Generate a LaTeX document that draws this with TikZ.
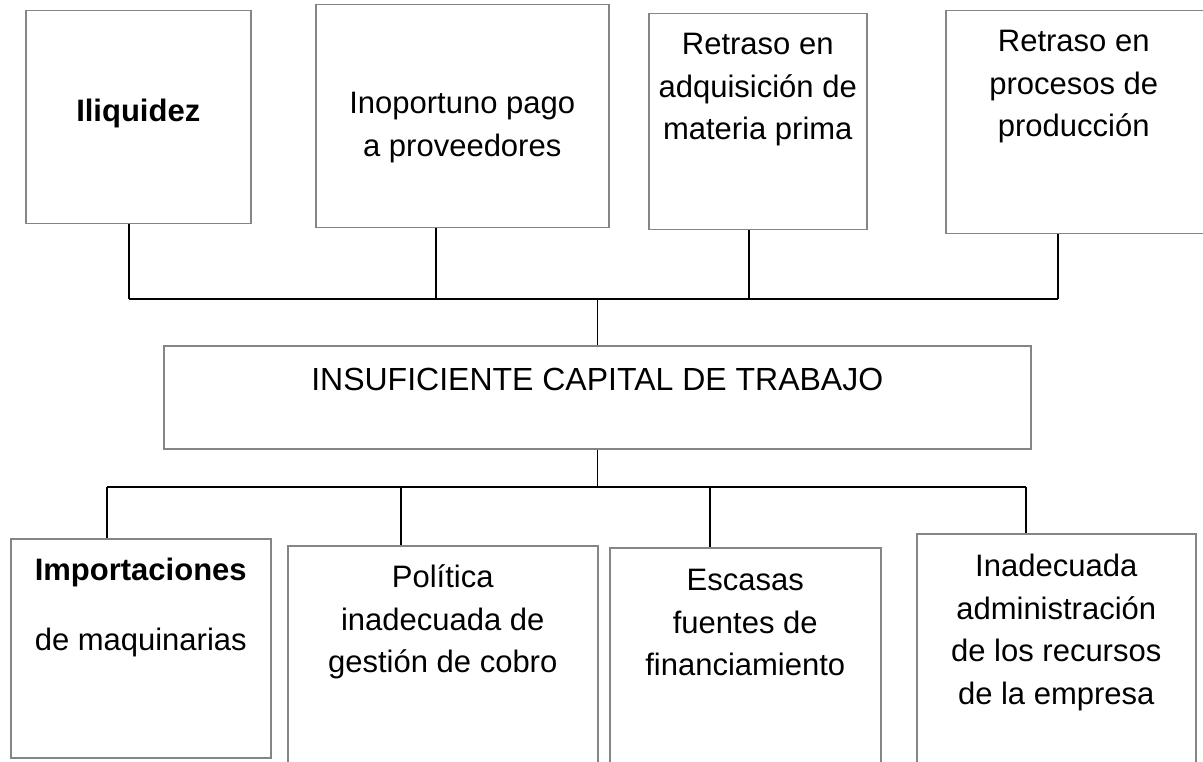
\documentclass[tikz,border=0pt]{standalone}
\usepackage{fontspec}
\setmainfont{Liberation Sans}
\definecolor{boxgray}{HTML}{858585}
\newcommand{\boxlines}[1]{\begin{tabular}[t]{@{}c@{}}#1\end{tabular}}
\begin{document}
\begin{tikzpicture}[x=1pt,y=-1pt,
  box/.style={draw=boxgray, line width=1.5pt, inner sep=0pt, anchor=north west,
    font=\fontsize{31}{42.5}\selectfont},
  conn/.style={line width=1.5pt, draw=black}]
\clip (0,0) rectangle (1203,762);
\fill[white] (0,0) rectangle (1203,762);
% top row
\node[box, minimum width=225pt, text height=111pt, text depth=102pt] (b1) at (25,10) {\boxlines{\textbf{Iliquidez}}};
\node[box, minimum width=293pt, text height=109pt, text depth=114pt] (b2) at (315,4) {\boxlines{Inoportuno pago\\a proveedores}};
\node[box, minimum width=218pt, text height=41pt, text depth=175pt] (b3) at (648,13) {\boxlines{Retraso en\\adquisición de\\materia prima}};
\node[box, minimum width=270pt, text height=41pt, text depth=182pt] (b4) at (945,10) {\boxlines{Retraso en\\procesos de\\producción}\hspace*{14pt}};
% centre
\node[box, minimum width=867pt, text height=45pt, text depth=58pt, font=\fontsize{32}{42.5}\selectfont] (c) at (163,345) {\boxlines{INSUFICIENTE CAPITAL DE TRABAJO}};
% bottom row
\node[box, minimum width=260pt, text height=42pt, text depth=177pt] (b5) at (10,538) {\boxlines{\textbf{Importaciones}\\[27.5pt]de maquinarias}};
\node[box, minimum width=310pt, text height=42pt, text depth=198pt] (b6) at (287,545) {\boxlines{Política\\inadecuada de\\gestión de cobro}};
\node[box, minimum width=271pt, text height=43pt, text depth=198pt] (b7) at (609,547) {\boxlines{Escasas\\fuentes de\\financiamiento}};
\node[box, minimum width=279pt, text height=43pt, text depth=208pt] (b8) at (916,533) {\boxlines{Inadecuada\\administración\\de los recursos\\de la empresa}};
% bus coordinates
\coordinate (u1) at (129,299);
\coordinate (u2) at (436,299);
\coordinate (u3) at (749,299);
\coordinate (u4) at (1058,299);
\coordinate (l1) at (107,487);
\coordinate (l2) at (401,487);
\coordinate (l3) at (710,487);
\coordinate (l4) at (1026,487);
% top connectors
\draw[conn] (u1 |- b1.south) -- (u1);
\draw[conn] (u2 |- b2.south) -- (u2);
\draw[conn] (u3 |- b3.south) -- (u3);
\draw[conn] (u4 |- b4.south) -- (u4);
\draw[conn] (u1) -- (u4);
\draw[conn] (c.north |- u1) -- (c.north);
% bottom connectors
\draw[conn] (c.south) -- (c.south |- l1);
\draw[conn] (l1) -- (l4);
\draw[conn] (l1) -- (l1 |- b5.north);
\draw[conn] (l2) -- (l2 |- b6.north);
\draw[conn] (l3) -- (l3 |- b7.north);
\draw[conn] (l4) -- (l4 |- b8.north);
\end{tikzpicture}
\end{document}
